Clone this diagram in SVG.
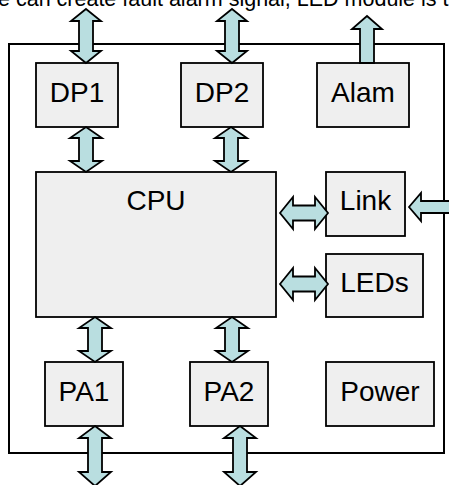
<svg xmlns="http://www.w3.org/2000/svg" width="449" height="485" viewBox="0 0 449 485">
<style>
.box{fill:#efefef;stroke:#000;stroke-width:1.8}
.lbl{font-family:"Liberation Sans",Arial,sans-serif;font-size:28px;fill:#000;text-anchor:middle}
.arr{fill:#b9dee0;stroke:#000;stroke-width:1.8;stroke-linejoin:miter}
.frame{fill:none;stroke:#000;stroke-width:2}
</style>
<rect width="449" height="485" fill="#fff"/>
<text x="-2" y="6" style="font-family:'Liberation Sans',Arial,sans-serif;font-size:21.5px" fill="#000">e can create fault alarm signal, LED module is t</text>
<rect class="frame" x="9" y="44" width="435" height="409"/>
<g id="DP1"><rect class="box" x="36" y="63" width="82" height="64"/><text class="lbl" x="77" y="102">DP1</text></g>
<g id="DP2"><rect class="box" x="181" y="63" width="82" height="64"/><text class="lbl" x="222" y="102">DP2</text></g>
<g id="Alam"><rect class="box" x="317" y="63" width="92" height="64"/><text class="lbl" x="363" y="102">Alam</text></g>
<g id="CPU"><rect class="box" x="36" y="172" width="240" height="145"/><text class="lbl" x="156" y="210">CPU</text></g>
<g id="Link"><rect class="box" x="326" y="172" width="79" height="64"/><text class="lbl" x="365.5" y="210">Link</text></g>
<g id="LEDs"><rect class="box" x="326" y="254" width="97" height="63"/><text class="lbl" x="374.5" y="292">LEDs</text></g>
<g id="PA1"><rect class="box" x="45" y="362" width="78" height="64"/><text class="lbl" x="84" y="401">PA1</text></g>
<g id="PA2"><rect class="box" x="190" y="362" width="78" height="64"/><text class="lbl" x="229" y="401">PA2</text></g>
<g id="Power"><rect class="box" x="326" y="362" width="108" height="64"/><text class="lbl" x="380" y="401">Power</text></g>
<g id="connectors">
<path class="arr" d="M86,9 L101,21 L93,21 L93,51 L101,51 L86,63 L71,51 L79,51 L79,21 L71,21 Z"/>
<path class="arr" d="M232,9 L247,21 L239,21 L239,51 L247,51 L232,63 L217,51 L225,51 L225,21 L217,21 Z"/>
<path class="arr" d="M367,16 L382,29 L374,29 L374,63 L360,63 L360,29 L352,29 Z"/>
<path class="arr" d="M86,127 L102,138 L93,138 L93,161 L102,161 L86,172 L70,161 L79,161 L79,138 L70,138 Z"/>
<path class="arr" d="M231,127 L247,138 L238,138 L238,161 L247,161 L231,172 L215,161 L224,161 L224,138 L215,138 Z"/>
<path class="arr" d="M280,213 L293,197 L293,205.5 L315,205.5 L315,197 L328,213 L315,229 L315,220.5 L293,220.5 L293,229 Z"/>
<path class="arr" d="M280,284 L293,268 L293,276.5 L315,276.5 L315,268 L328,284 L315,300 L315,291.5 L293,291.5 L293,300 Z"/>
<path class="arr" d="M409,207 L421,193 L421,201 L452,201 L452,193 L464,207 L452,221 L452,213 L421,213 L421,221 Z"/>
<path class="arr" d="M95,317 L111,328 L102,328 L102,351 L111,351 L95,362 L79,351 L88,351 L88,328 L79,328 Z"/>
<path class="arr" d="M232,317 L248,328 L239,328 L239,351 L248,351 L232,362 L216,351 L225,351 L225,328 L216,328 Z"/>
<path class="arr" d="M95,426 L111,438 L102,438 L102,472 L111,472 L95,486 L79,472 L88,472 L88,438 L79,438 Z"/>
<path class="arr" d="M240,426 L256,438 L247,438 L247,472 L256,472 L240,486 L224,472 L233,472 L233,438 L224,438 Z"/>
</g>
</svg>
